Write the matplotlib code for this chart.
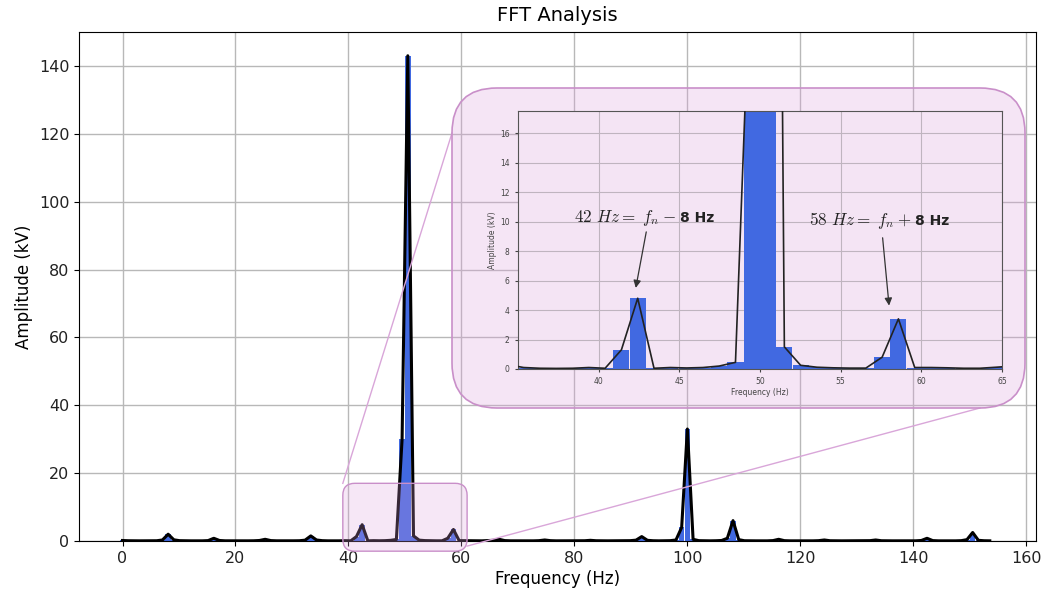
import numpy as np
import matplotlib
matplotlib.use('Agg')
import matplotlib.pyplot as plt
from matplotlib.patches import FancyBboxPatch
from matplotlib.lines import Line2D

plt.rcParams['mathtext.fontset'] = 'cm'

# frequency resolution of the spectrum (Hz per bin)
df = 1.01

# FFT amplitude per bin (kV), bin k sits at k * df
amplitude = [
    0.15, 0.08, 0.06, 0.05, 0.07, 0.06, 0.08, 0.30, 2.00, 0.35,
    0.10, 0.06, 0.05, 0.06, 0.05, 0.12, 0.80, 0.15, 0.06, 0.05,
    0.05, 0.06, 0.05, 0.07, 0.15, 0.50, 0.12, 0.06, 0.05, 0.05,
    0.06, 0.08, 0.25, 1.50, 0.30, 0.10, 0.05, 0.04, 0.05, 0.10,
    0.05, 1.30, 4.80, 0.05, 0.10, 0.07, 0.10, 0.20, 0.45, 30.0,
    143.0, 1.50, 0.25, 0.12, 0.08, 0.06, 0.06, 0.80, 3.40, 0.10,
    0.10, 0.08, 0.05, 0.05, 0.12, 0.20, 0.50, 0.12, 0.06, 0.05,
    0.05, 0.06, 0.05, 0.10, 0.30, 0.10, 0.05, 0.05, 0.06, 0.05,
    0.05, 0.08, 0.20, 0.08, 0.05, 0.05, 0.06, 0.05, 0.05, 0.10,
    0.25, 1.30, 0.20, 0.08, 0.05, 0.06, 0.10, 0.30, 4.00, 33.0,
    0.50, 0.10, 0.06, 0.05, 0.08, 0.15, 0.80, 6.00, 0.40, 0.08,
    0.05, 0.05, 0.06, 0.05, 0.12, 0.50, 0.10, 0.05, 0.05, 0.06,
    0.05, 0.05, 0.10, 0.30, 0.08, 0.05, 0.05, 0.06, 0.05, 0.05,
    0.06, 0.10, 0.30, 0.08, 0.05, 0.05, 0.06, 0.05, 0.05, 0.06,
    0.15, 0.80, 0.12, 0.05, 0.05, 0.06, 0.05, 0.10, 0.40, 2.50,
    0.20, 0.08, 0.05,
]
freqs = np.arange(len(amplitude)) * df

main_xticks = [0, 20, 40, 60, 80, 100, 120, 140, 160]
main_yticks = [0, 20, 40, 60, 80, 100, 120, 140]
zoom_xlim = (35, 65)
zoom_ylim = (0, 17.5)
zoom_xticks = [40, 45, 50, 55, 60, 65]
zoom_yticks = [0, 2, 4, 6, 8, 10, 12, 14, 16]

# (math part, bold part, text start, arrow tail, arrow tip)
notes = [
    (r"$42\ Hz =\ f_n - $", "8 Hz", (38.5, 9.95), (42.95, 9.3), (42.3, 5.5)),
    (r"$58\ Hz =\ f_n + $", "8 Hz", (53.05, 9.8), (57.6, 8.9), (58.0, 4.3)),
]

W, H = 1041, 592
fig = plt.figure(figsize=(W / 100, H / 100), dpi=100)

# main spectrum
ax = fig.add_axes([79 / W, (H - 541) / H, (1036 - 79) / W, (541 - 32) / H], zorder=0)
ax.bar(freqs, amplitude, width=1.0, color='royalblue', zorder=2)
ax.plot(freqs, amplitude, color='black', lw=2.2, zorder=3)
ax.set_xlim(-7.7, 161.7)
ax.set_ylim(0, 150)
ax.set_xticks(main_xticks)
ax.set_yticks(main_yticks)
ax.tick_params(labelsize=11.5, labelcolor='#222222')
ax.grid(True, color='#b8b8b8', lw=1)
ax.set_axisbelow(True)
ax.set_title('FFT Analysis', fontsize=14, pad=8)
ax.set_xlabel('Frequency (Hz)', fontsize=12, labelpad=3)
ax.set_ylabel('Amplitude (kV)', fontsize=12)

box_face = '#f4e4f4'
box_edge = '#c98fc9'

# small highlight box around the zoomed region (built in inches)
to_in = lambda pt: ax.transData.transform(pt) / fig.dpi
(sx0, sy0) = to_in((39, -3))
(sx1, sy1) = to_in((61, 17))
fig.add_artist(FancyBboxPatch((sx0, sy0), sx1 - sx0, sy1 - sy0,
                              boxstyle='round,pad=0,rounding_size=0.12',
                              transform=fig.dpi_scale_trans,
                              facecolor='plum', alpha=0.25, edgecolor='none', zorder=1))
fig.add_artist(FancyBboxPatch((sx0, sy0), sx1 - sx0, sy1 - sy0,
                              boxstyle='round,pad=0,rounding_size=0.12',
                              transform=fig.dpi_scale_trans,
                              facecolor='none', edgecolor=box_edge, lw=1, zorder=1))

# big box behind the inset (translucent, main grid shows through)
bx0, by0, bw, bh, br = 4.52, 1.84, 5.73, 3.20, 0.45
fig.add_artist(FancyBboxPatch((bx0, by0), bw, bh,
                              boxstyle='round,pad=0,rounding_size=%g' % br,
                              transform=fig.dpi_scale_trans,
                              facecolor='plum', alpha=0.27, edgecolor='none', zorder=2))
fig.add_artist(FancyBboxPatch((bx0, by0), bw, bh,
                              boxstyle='round,pad=0,rounding_size=%g' % br,
                              transform=fig.dpi_scale_trans,
                              facecolor='none', edgecolor=box_edge, lw=1.2, zorder=2))

# connector lines
(c1x, c1y) = to_in((39, 17))
(c2x, c2y) = to_in((61, -1.5))
fig.add_artist(Line2D([c1x, bx0], [c1y, by0 + bh - br], transform=fig.dpi_scale_trans,
                      color='#d9a6d9', lw=1, zorder=1.5))
fig.add_artist(Line2D([c2x, bx0 + bw - br], [c2y, by0], transform=fig.dpi_scale_trans,
                      color='#d9a6d9', lw=1, zorder=1.5))

# zoomed inset
axin = fig.add_axes([518 / W, (H - 369) / H, (1002 - 518) / W, (369 - 111) / H],
                    zorder=3, facecolor=box_face)
axin.bar(freqs, amplitude, width=1.0, color='royalblue', zorder=2)
axin.plot(freqs, amplitude, color='#222222', lw=1.2, zorder=3)
axin.set_xlim(*zoom_xlim)
axin.set_ylim(*zoom_ylim)
axin.set_xticks(zoom_xticks)
axin.set_yticks(zoom_yticks)
axin.tick_params(labelsize=5.5, colors='#444444', length=2.5)
axin.grid(True, color='#bfb4bf', lw=0.8)
axin.set_axisbelow(True)
axin.set_xlabel('Frequency (Hz)', fontsize=5.5, color='#444444', labelpad=1)
axin.set_ylabel('Amplitude (kV)', fontsize=5.5, color='#444444', labelpad=2)
for s in axin.spines.values():
    s.set_color('#555555')

renderer = fig.canvas.get_renderer()
for math_part, bold_part, start, tail, tip in notes:
    t = axin.text(start[0], start[1], math_part, ha='left', va='baseline',
                  fontsize=12.3, color='#222222')
    # put the bold part right after the math part
    ext = t.get_window_extent(renderer=renderer)
    x_end = axin.transData.inverted().transform((ext.x1 + 4, 0))[0]
    axin.text(x_end, start[1], bold_part, ha='left', va='baseline',
              fontsize=10, fontweight='bold', color='#222222')
    axin.annotate('', xy=tip, xytext=tail,
                  arrowprops=dict(arrowstyle='-|>', color='#333333', lw=0.9,
                                  mutation_scale=11, shrinkA=0, shrinkB=0))

fig.savefig('out.png', dpi=100)
